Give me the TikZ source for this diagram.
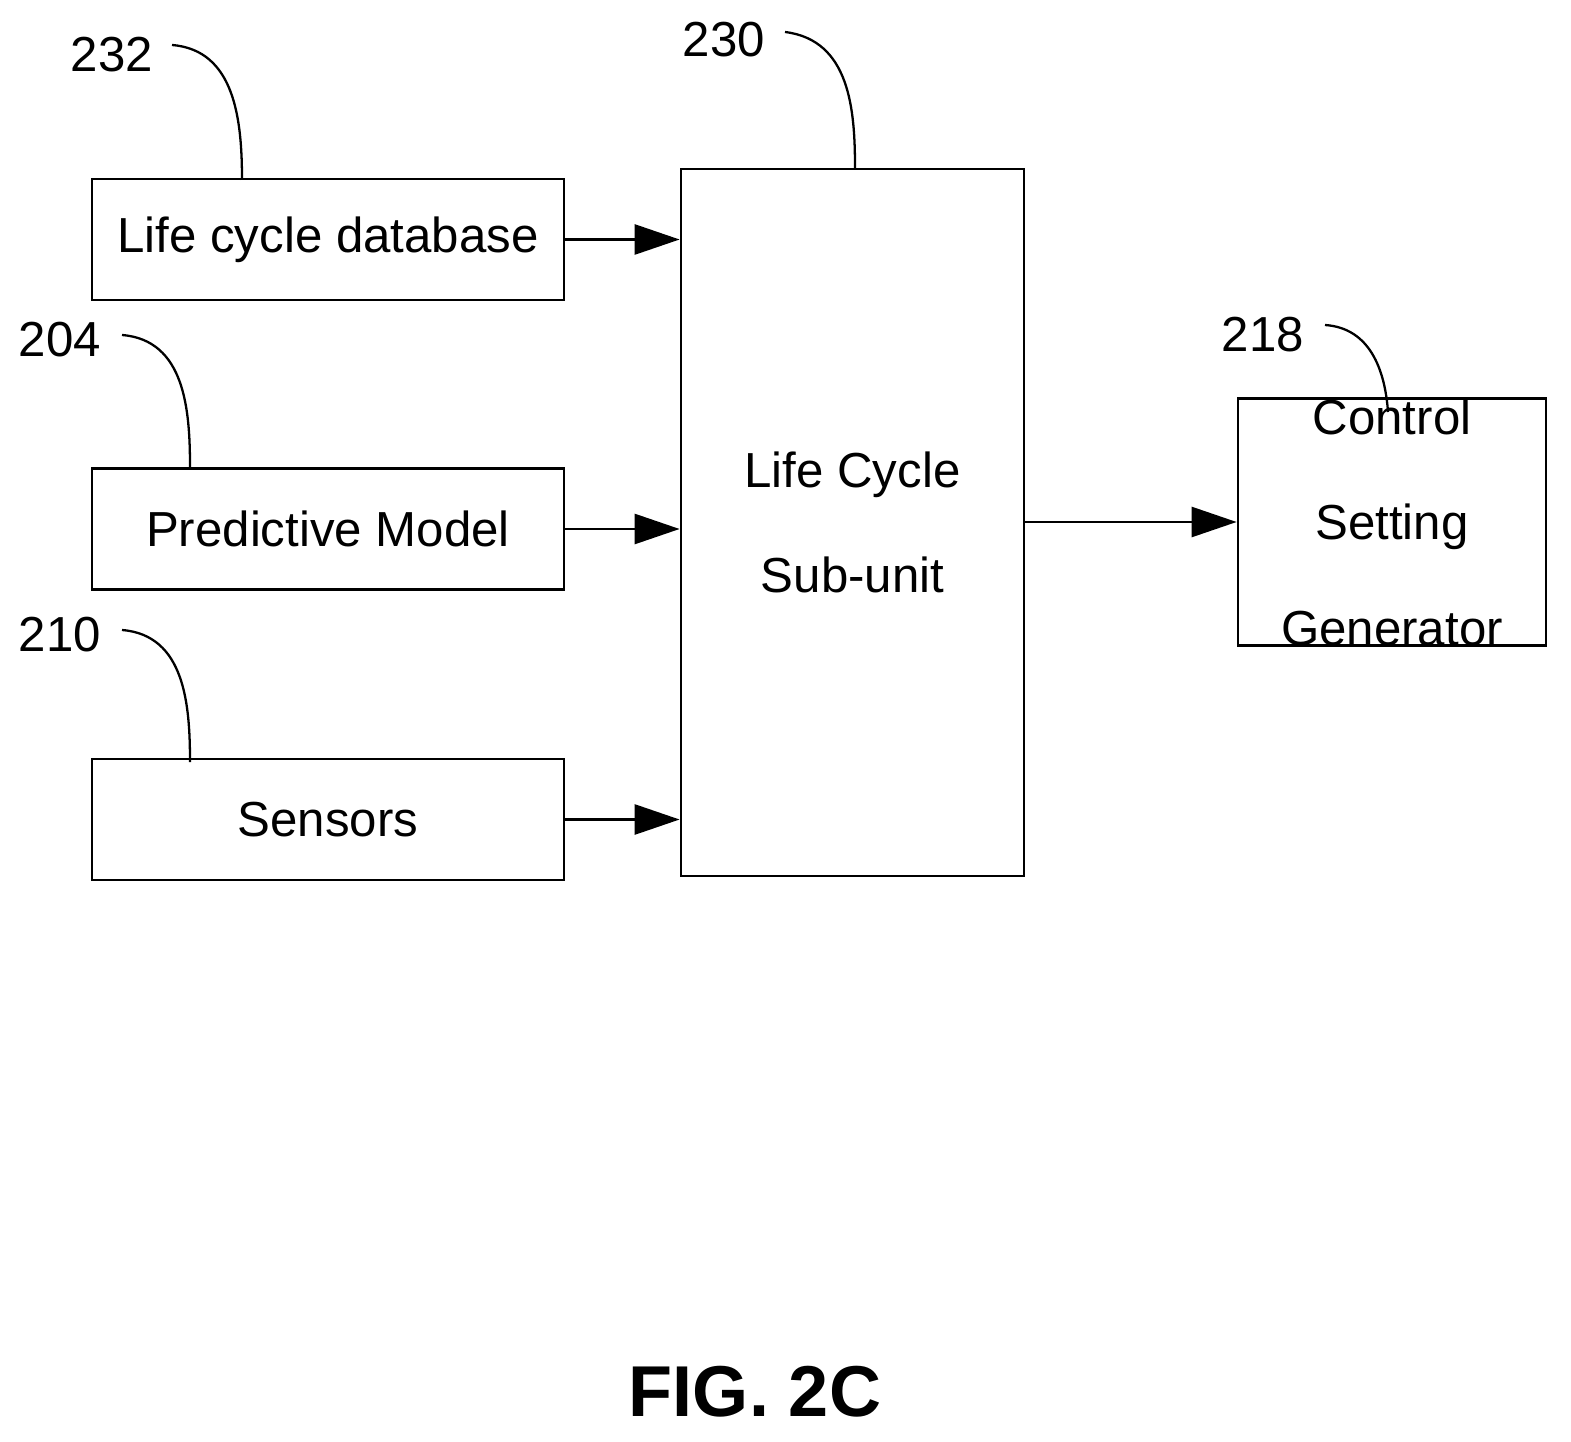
\documentclass[tikz,border=0pt]{standalone}
\usepackage{fontspec}
\setmainfont{Liberation Sans}
\usetikzlibrary{arrows.meta, positioning}
\begin{document}
\begin{tikzpicture}[x=0.02cm, y=-0.02cm, line width=1.6pt, >={Triangle[length=0.9cm, width=0.6cm]},
  box/.style={draw, rectangle, inner sep=0pt, align=center, font=\fontsize{28}{34}\selectfont},
  refnum/.style={font=\fontsize{28}{34}\selectfont, inner sep=0pt}]
\useasboundingbox (0,0) rectangle (1571,1442);
% Blocks
\node[box, minimum width=472*0.02cm, minimum height=121*0.02cm] (lcd) at (328,239.5) {Life cycle database};
\node[box, minimum width=472*0.02cm, minimum height=121*0.02cm] (pm) at (328,529) {Predictive Model};
\node[box, minimum width=472*0.02cm, minimum height=121*0.02cm] (sens) at (328,819.5) {Sensors};
\node[box, minimum width=343*0.02cm, minimum height=707*0.02cm, font=\fontsize{28}{60}\selectfont] (lcs) at (852.5,522.5) {Life Cycle\\Sub-unit};
\node[box, minimum width=308*0.02cm, minimum height=218*0.02cm, font=\fontsize{28}{60}\selectfont] (csg) at (1392,522) {Control\\Setting\\Generator};

% Edges
\draw[->] (lcd.east) -- (lcd.east -| lcs.west);
\draw[->] (pm.east) -- (pm.east -| lcs.west);
\draw[->] (sens.east) -- (sens.east -| lcs.west);
\draw[->] (lcs.east |- csg.west) -- (csg.west);

% Reference numerals
\node[refnum] (n232) at (112,55) {232};
\node[refnum] (n204) at (60,340) {204};
\node[refnum] (n210) at (60,635) {210};
\node[refnum] (n230) at (724,40) {230};
\node[refnum] (n218) at (1263,335) {218};
\draw[line width=1.3pt] (172,45) .. controls (235,50) and (242,120) .. (242,180);
\draw[line width=1.3pt] (122,335) .. controls (185,340) and (190,410) .. (190,467);
\draw[line width=1.3pt] (122,630) .. controls (185,635) and (190,705) .. (190,762);
\draw[line width=1.3pt] (785,32) .. controls (850,40) and (855,110) .. (855,168);
\draw[line width=1.3pt] (1325,325) .. controls (1370,328) and (1385,370) .. (1388,412);

\node[font=\bfseries\fontsize{41}{48}\selectfont, inner sep=0pt] (fig) at (755,1392) {FIG. 2C};
\end{tikzpicture}
\end{document}
